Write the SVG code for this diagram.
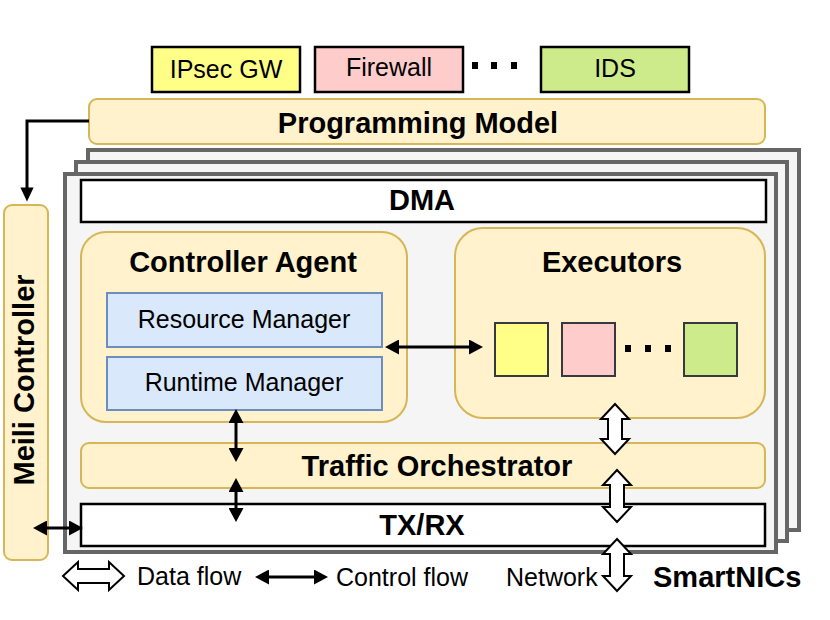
<svg xmlns="http://www.w3.org/2000/svg" width="830" height="620" viewBox="0 0 830 620">
<defs>
<style>
text{font-family:"Liberation Sans",Arial,sans-serif;fill:#000}
.r{font-size:25px}
.b{font-size:29px;font-weight:bold}
.y{fill:#fff2cc;stroke:#d6b656;stroke-width:2}
.nic{fill:#f5f5f5;stroke:#666666;stroke-width:4}
.w{fill:#ffffff;stroke:#000;stroke-width:2.5}
.bl{fill:#dae8fc;stroke:#6c8ebf;stroke-width:2}
.app{stroke:#000;stroke-width:2.5}
.ex{stroke:#36393d;stroke-width:2}
.c{stroke:#000;stroke-width:3;fill:none;marker-start:url(#ah);marker-end:url(#ah)}
.d{fill:#fff;stroke:#000;stroke-width:2;stroke-linejoin:miter}
</style>
<marker id="ah" markerUnits="userSpaceOnUse" markerWidth="15" markerHeight="15" refX="10" refY="7.5" orient="auto-start-reverse" viewBox="0 0 15 15">
<path d="M0,0 L14,7.5 L0,15 z" fill="#000"/>
</marker>
<marker id="ae" markerUnits="userSpaceOnUse" markerWidth="15" markerHeight="17" refX="12" refY="7.5" orient="auto" viewBox="0 0 17 15">
<path d="M0,0 L16,7.5 L0,15 z" fill="#000"/>
</marker>
</defs>

<g id="apps">
<g id="ipsec"><rect x="152" y="47" width="148" height="45" fill="#ffff88" class="app"/><text x="226" y="78" class="r" text-anchor="middle">IPsec GW</text></g>
<g id="firewall"><rect x="315" y="47" width="148" height="45" fill="#ffcccc" class="app"/><text x="389" y="76" class="r" text-anchor="middle">Firewall</text></g>
<g id="appdots"><rect x="472" y="62" width="6" height="7"/><rect x="491" y="62" width="6" height="7"/><rect x="511" y="62" width="6" height="7"/></g>
<g id="ids"><rect x="541" y="47" width="148" height="45" fill="#cdeb8b" class="app"/><text x="615" y="77" class="r" text-anchor="middle">IDS</text></g>
</g>

<g id="programming-model"><rect x="89" y="99" width="676" height="45" rx="8" class="y"/><text x="418" y="133" class="b" text-anchor="middle">Programming Model</text></g>

<g id="smartnics">
<rect x="88" y="150" width="711" height="380" class="nic"/>
<rect x="76" y="162" width="711" height="379" class="nic"/>
<rect x="65" y="174" width="711" height="378" class="nic"/>
</g>

<g id="dma"><rect x="81" y="180" width="685" height="42" class="w"/><text x="422" y="210" class="b" text-anchor="middle">DMA</text></g>

<g id="controller-agent"><rect x="81" y="232" width="326" height="190" rx="25" class="y"/><text x="243" y="272" class="b" text-anchor="middle">Controller Agent</text></g>
<g id="resource-manager"><rect x="107" y="293" width="275" height="54" class="bl"/><text x="244" y="328" class="r" text-anchor="middle">Resource Manager</text></g>
<g id="runtime-manager"><rect x="107" y="357" width="275" height="53" class="bl"/><text x="244" y="391" class="r" text-anchor="middle">Runtime Manager</text></g>

<g id="executors"><rect x="455" y="228" width="310" height="190" rx="28" class="y"/><text x="612" y="272" class="b" text-anchor="middle">Executors</text>
<rect x="495" y="323" width="53" height="53" fill="#ffff88" class="ex"/>
<rect x="562" y="323" width="53" height="53" fill="#ffcccc" class="ex"/>
<rect x="625" y="345" width="6" height="7"/><rect x="645" y="345" width="6" height="7"/><rect x="665" y="345" width="6" height="7"/>
<rect x="684" y="323" width="53" height="53" fill="#cdeb8b" class="ex"/>
</g>

<g id="traffic-orchestrator"><rect x="81" y="443" width="684" height="45" rx="8" class="y"/><text x="437" y="476" class="b" text-anchor="middle">Traffic Orchestrator</text></g>

<g id="txrx"><rect x="81" y="504" width="684" height="42" class="w"/><text x="422" y="535" class="b" text-anchor="middle">TX/RX</text></g>

<g id="meili-controller"><rect x="4" y="205" width="44" height="355" rx="8" class="y"/><text transform="translate(34,380) rotate(-90)" class="b" text-anchor="middle">Meili Controller</text></g>

<g id="connectors">
<path d="M89,121 L27,121 L27,198" stroke="#000" stroke-width="3" fill="none" marker-end="url(#ae)"/>
<line x1="389" y1="347" x2="479" y2="347" class="c"/>
<line x1="236" y1="413" x2="236" y2="458" class="c"/>
<line x1="236" y1="482" x2="236" y2="518" class="c"/>
<line x1="37" y1="528" x2="79" y2="528" class="c"/>
<polygon class="d" points="615,404 629,419 622,419 622,439 629,439 615,454 601,439 608,439 608,419 601,419"/>
<polygon class="d" points="617,470 631,485 624,485 624,507 631,507 617,522 603,507 610,507 610,485 603,485"/>
<polygon class="d" points="617,539 631,554 624,554 624,576 631,576 617,591 603,576 610,576 610,554 603,554"/>
</g>

<g id="legend">
<polygon class="d" points="63,576 78,562 78,569 109,569 109,562 124,576 109,590 109,583 78,583 78,590"/>
<text x="137" y="585" class="r">Data flow</text>
<line x1="259" y1="577" x2="324" y2="577" class="c"/>
<text x="336" y="586" class="r">Control flow</text>
<text x="506" y="586" class="r">Network</text>
<text x="653" y="587" class="b">SmartNICs</text>
</g>
</svg>
